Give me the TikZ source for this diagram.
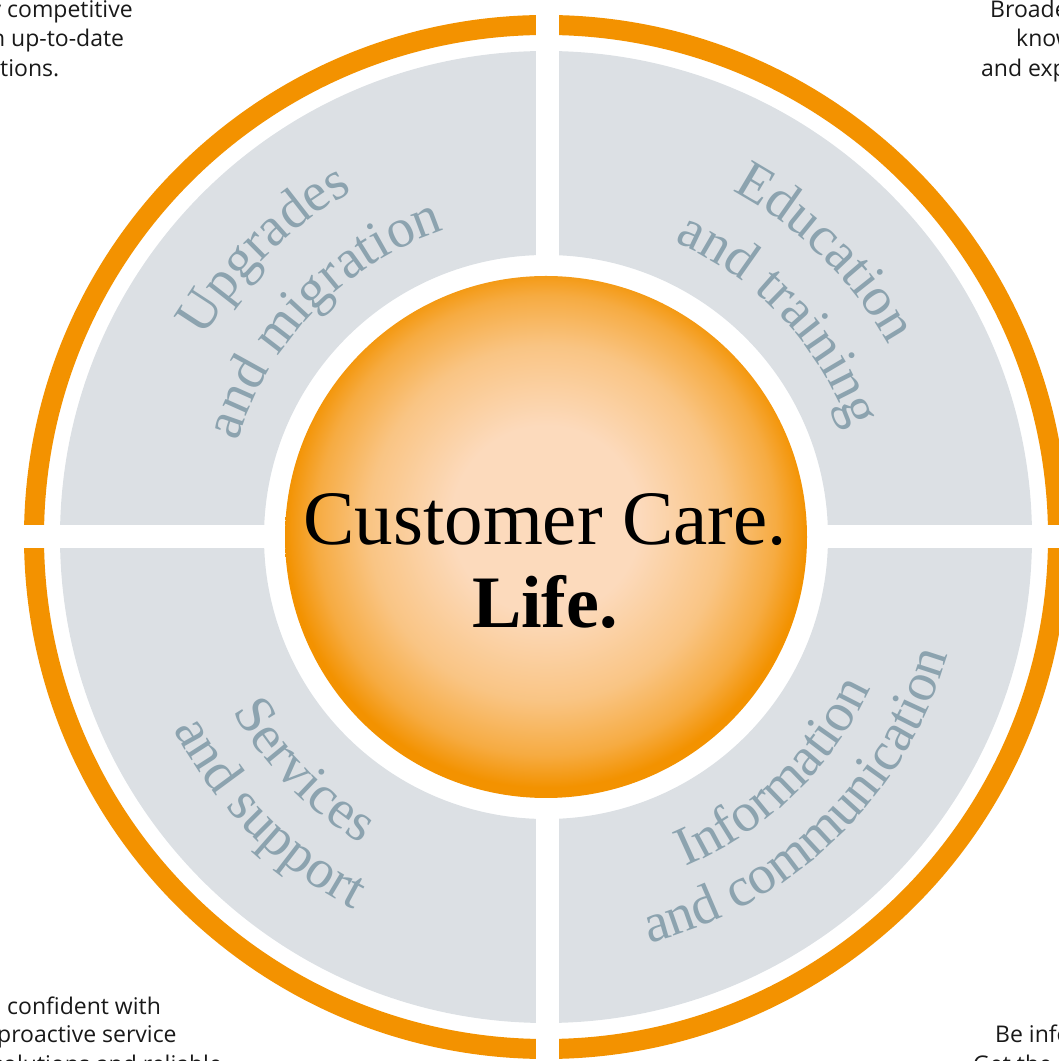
\documentclass[tikz,border=0pt]{standalone}
\usepackage{fontspec}
\setmainfont{Liberation Serif}
\newfontfamily\cornerfont{Open Sans}
\usetikzlibrary{decorations.text,calc}
\definecolor{orng}{HTML}{F39200}
\definecolor{lgray}{HTML}{DCE0E4}
\definecolor{labc}{HTML}{8CA3AF}
\definecolor{peach}{HTML}{FCDABC}
\pgfdeclareradialshading{ccshade}{\pgfpoint{0bp}{2bp}}{color(0bp)=(peach); color(9bp)=(peach); color(17bp)=(peach!70!orng); color(22bp)=(peach!35!orng); color(25bp)=(orng); color(50bp)=(orng)}
\newcommand\lblfont{\fontsize{55}{62}\selectfont\color{labc}}
\newcommand\cfont{\cornerfont\fontsize{23}{29}\selectfont}
\tikzset{
  corner/.style={font=\cfont, text=black!90, inner sep=0pt, anchor=base west},
  toplabel/.style={decorate, decoration={text along path, text align=center, text={|\lblfont|#1}}},
}
\begin{document}
\begin{tikzpicture}[x=1pt,y=1pt]
\useasboundingbox (0,0) rectangle (1059,1061);
\clip (0,0) rectangle (1059,1061);
\coordinate (C) at (546,524);
% rings
\fill[orng, even odd rule] (C) circle (522) (C) circle (502);
\fill[lgray, even odd rule] (C) circle (486) (C) circle (282);
% gaps
\fill[white] (536,-20) rectangle (559,1100);
\fill[white] (-20,513) rectangle (1100,536);
% centre disc
\shade[shading=ccshade] (C) circle (261);
\node[font=\fontsize{77}{83}\selectfont, align=center, anchor=base, inner sep=0pt] (ctr) at (545,433) {Customer Care.\\{\fontsize{74}{83}\selectfont\bfseries Life.}};
% segment labels
\path[toplabel={Upgrades}] ($(C)+(174.5:396)$) arc[start angle=174.5, end angle=94.5, radius=396];
\path[toplabel={and migration}] ($(C)+(185.5:323)$) arc[start angle=185.5, end angle=85.5, radius=323];
\path[toplabel={Education}] ($(C)+(85.5:393)$) arc[start angle=85.5, end angle=5.5, radius=393];
\path[toplabel={and training}] ($(C)+(93:322)$) arc[start angle=93, end angle=-7, radius=322];
\path[toplabel={Services}] ($(C)+(184:358)$) arc[start angle=184, end angle=264, radius=358];
\path[toplabel={and support}] ($(C)+(180:419)$) arc[start angle=180, end angle=270, radius=419];
\path[toplabel={Information}] ($(C)+(269:358)$) arc[start angle=269, end angle=359, radius=358];
\path[toplabel={and communication}] ($(C)+(259:419)$) arc[start angle=259, end angle=369, radius=419];
% corner texts
\node[corner] (tl1) at (7,1043.5) {\llap{Stay\ }competitive};
\node[corner] (tl2) at (11,1014) {\llap{with\ }up-to-date};
\node[corner] (tl3) at (0,984) {\llap{solu}tions.};
\node[corner] (tr1) at (990,1043.5) {Broaden your};
\node[corner] (tr2) at (1016,1014) {knowledge};
\node[corner] (tr3) at (981,984) {and expertise.};
\node[corner] (bl1) at (7,46) {\llap{Feel\ }confident with};
\node[corner] (bl2) at (-3,18) {proactive service};
\node[corner] (bl3) at (-8,-12) {solutions and reliable};
\node[corner] (br1) at (995,18) {Be informed};
\node[corner] (br2) at (973,-12) {Get the latest};
\end{tikzpicture}
\end{document}
